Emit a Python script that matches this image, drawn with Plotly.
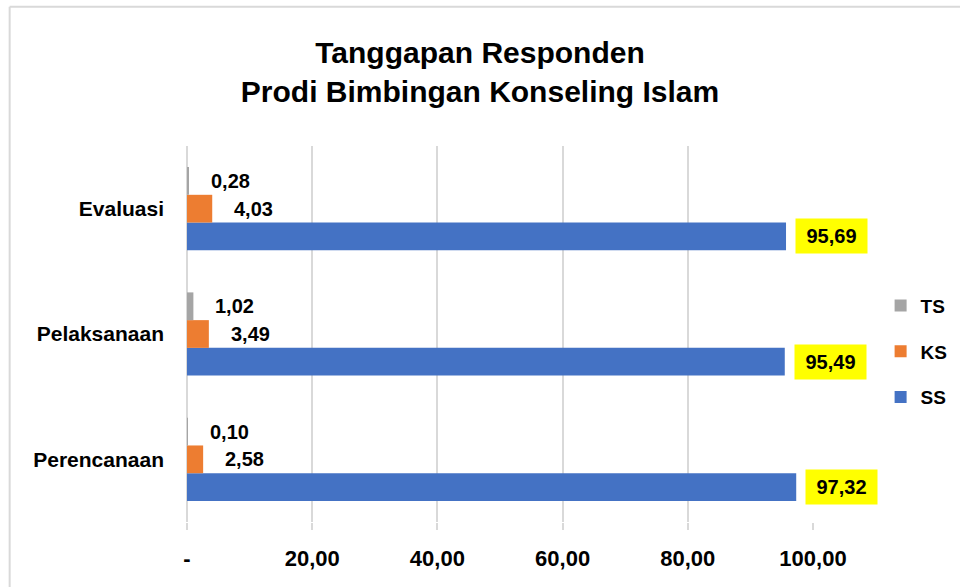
import plotly.graph_objects as go

# Survey response shares (%) per programme stage
categories = ["Perencanaan", "Pelaksanaan", "Evaluasi"]
ss_values = [97.32, 95.49, 95.69]
ks_values = [2.58, 3.49, 4.03]
ts_values = [0.10, 1.02, 0.28]

tick_vals = [0, 20, 40, 60, 80, 100]
tick_text = ["-", "20,00", "40,00", "60,00", "80,00", "100,00"]

FONT = "Liberation Sans, Arial, sans-serif"

# (name, values, colour, legend rank) - SS is drawn lowest in each group
series = [
    ("SS", ss_values, "#4472C4", 3),
    ("KS", ks_values, "#ED7D31", 2),
    ("TS", ts_values, "#A5A5A5", 1),
]


def fmt(v):
    return f"{v:.2f}".replace(".", ",")


fig = go.Figure()
for name, vals, color, rank in series:
    fig.add_trace(go.Bar(
        name=name, x=vals, y=categories, orientation="h",
        marker=dict(color=color, line=dict(width=0)),
        legendgroup=name, legendrank=rank,
    ))

# value labels placed right of each bar, shifted to its slot in the group
slot_shift = {"SS": -27.7, "KS": 0.0, "TS": 27.7}
annotations = []
for name, vals, color, rank in series:
    for cat, v in zip(categories, vals):
        label = dict(
            x=v, y=cat, xref="x", yref="y", text=f"<b>{fmt(v)}</b>",
            showarrow=False, xanchor="left", yanchor="middle",
            yshift=slot_shift[name],
            font=dict(family=FONT, size=20, color="#000000"),
        )
        if name == "SS":
            label.update(xshift=9, bgcolor="#FFFF00", width=67, height=30,
                         borderpad=2)
        else:
            label.update(xshift=20)
        annotations.append(label)

# outer frame along the top and left edges
frame_x = -0.2833
frame_y = 1.3705
shapes = [
    dict(type="line", xref="paper", yref="paper", x0=frame_x, x1=frame_x,
         y0=-0.2, y1=frame_y, line=dict(color="#D9D9D9", width=2)),
    dict(type="line", xref="paper", yref="paper", x0=frame_x, x1=1.3,
         y0=frame_y, y1=frame_y, line=dict(color="#D9D9D9", width=2)),
]

fig.update_layout(
    width=960, height=587,
    margin=dict(l=186.5, r=147, t=146, b=64.5, pad=0, autoexpand=False),
    paper_bgcolor="#FFFFFF", plot_bgcolor="#FFFFFF",
    barmode="group", bargap=0.336, bargroupgap=0,
    title=dict(
        text="<b>Tanggapan Responden<br>Prodi Bimbingan Konseling Islam</b>",
        x=0.5, xanchor="center", y=1 - 63 / 587, yanchor="middle",
        xref="container", yref="container",
        font=dict(family=FONT, size=30, color="#000000"),
    ),
    font=dict(family=FONT, color="#000000"),
    xaxis=dict(
        range=[0, 100], tickvals=tick_vals, ticktext=tick_text,
        showgrid=True, gridcolor="#D9D9D9", gridwidth=2,
        zeroline=True, zerolinecolor="#D9D9D9", zerolinewidth=2,
        ticks="outside", ticklen=7, tickcolor="#D9D9D9", tickwidth=2,
        tickfont=dict(family=FONT, size=22, color="#000000", weight="bold"),
        ticklabelstandoff=10, automargin=False, fixedrange=True,
    ),
    yaxis=dict(
        categoryorder="array", categoryarray=categories,
        range=[-0.5, 2.5], showgrid=False, zeroline=False,
        tickfont=dict(family=FONT, size=21, color="#000000", weight="bold"),
        ticklabelstandoff=22, automargin=False, fixedrange=True,
    ),
    legend=dict(
        x=1.108, y=0.453, xanchor="left", yanchor="middle",
        traceorder="grouped", tracegroupgap=18,
        font=dict(family=FONT, size=19, color="#000000", weight="bold"),
        bgcolor="rgba(0,0,0,0)",
    ),
    annotations=annotations,
    shapes=shapes,
)

fig.write_html("out.html")
